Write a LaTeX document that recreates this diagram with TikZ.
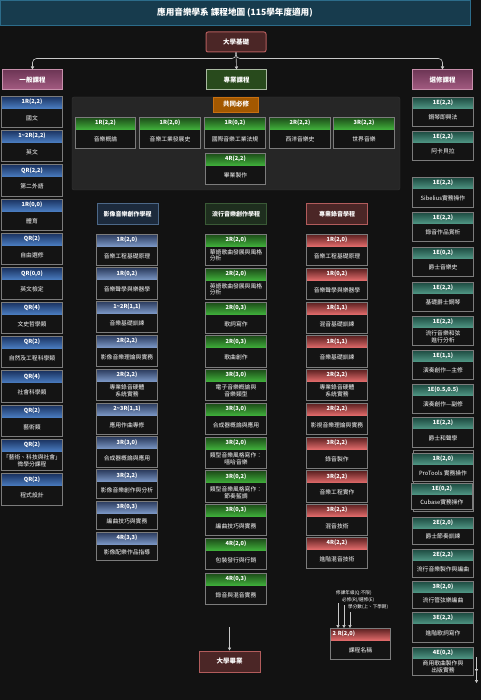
\documentclass[tikz,border=0pt]{standalone}
\usepackage{fontspec}
\setmainfont{Noto Sans CJK TC}
\usetikzlibrary{arrows.meta}
\definecolor{bgdark}{HTML}{121212}
\definecolor{boxblack}{HTML}{141414}
\definecolor{framegray}{HTML}{7C7C7C}
\definecolor{linegray}{HTML}{C8C8C8}
\definecolor{titlefill}{HTML}{173B4D}
\definecolor{titledraw}{HTML}{2C6C8A}
\definecolor{univfill}{HTML}{4B2626}
\definecolor{univdraw}{HTML}{B25C5C}
\definecolor{proffill}{HTML}{284A1C}
\definecolor{profdraw}{HTML}{A9B9A1}
\definecolor{pinktop}{HTML}{6E3656}
\definecolor{pinkbot}{HTML}{A45C82}
\definecolor{pinkdraw}{HTML}{C890AC}
\definecolor{corefill}{HTML}{A35800}
\definecolor{coredraw}{HTML}{C87010}
\definecolor{panelfill}{HTML}{262626}
\definecolor{paneldraw}{HTML}{363636}
\definecolor{filmfill}{HTML}{1C2A3C}
\definecolor{filmdraw}{HTML}{4C6888}
\definecolor{popfill}{HTML}{1E2E1E}
\definecolor{popdraw}{HTML}{3A5A36}
\definecolor{bluetop}{HTML}{1A3260}
\definecolor{bluebot}{HTML}{4A7CC0}
\definecolor{navytop}{HTML}{2A3A5C}
\definecolor{navybot}{HTML}{7A96C4}
\definecolor{greentop}{HTML}{1C4A18}
\definecolor{greenbot}{HTML}{3FAE3A}
\definecolor{redtop}{HTML}{5A2020}
\definecolor{redbot}{HTML}{E06A6A}
\definecolor{tealtop}{HTML}{1D4A40}
\definecolor{tealbot}{HTML}{4E9482}
\newcommand{\course}[6][]{%
  \node[#3,anchor=north] (#2) at #4 {#5};
  \node[cbody,#1,anchor=north] (#2-b) at (#2.south) {#6};
  \draw[cframe] (#2.north west) rectangle (#2-b.south east);
}
\tikzset{
  cframe/.style={draw=framegray,line width=0.9pt},
  cbody/.style={minimum width=60pt,minimum height=19pt,inner sep=0pt,fill=boxblack,text=white,
    font=\fontsize{5.8}{6.9}\selectfont,align=center},
  chead/.style={minimum width=60pt,minimum height=12pt,inner sep=0pt,text=white,
    font=\bfseries\fontsize{5.6}{6.8}\selectfont},
  hblue/.style={chead,top color=bluetop,bottom color=bluebot},
  hnavy/.style={chead,top color=navytop,bottom color=navybot},
  hgreen/.style={chead,top color=greentop,bottom color=greenbot},
  hred/.style={chead,top color=redtop,bottom color=redbot},
  hteal/.style={chead,minimum height=11pt,top color=tealtop,bottom color=tealbot},
  tag/.style={minimum width=60pt,minimum height=20pt,inner sep=0pt,text=white,line width=1pt,
    font=\bfseries\fontsize{6.5}{7.5}\selectfont},
  track/.style={minimum width=61pt,minimum height=21pt,inner sep=0pt,text=white,line width=1pt,
    font=\bfseries\fontsize{6}{7}\selectfont},
  legtxt/.style={inner sep=0pt,text=white,font=\fontsize{4.6}{5.5}\selectfont},
  conn/.style={draw=linegray,line width=0.6pt,-{Triangle[width=3.2pt,length=3pt]}},
}
\begin{document}
\begin{tikzpicture}[x=1pt,y=-1pt]
            \fill[bgdark] (0,0) rectangle (481,700);
            \useasboundingbox (0,0) rectangle (481,700);
            \node[fill=titlefill,draw=titledraw,line width=0.8pt,minimum width=470pt,minimum height=25pt,
              text=white,font=\bfseries\fontsize{8.6}{10}\selectfont] (title) at (235,12.5)
              {應用音樂學系 課程地圖 (115學年度適用)};
            \node[tag,fill=univfill,draw=univdraw,rounded corners=2pt] (univ) at (236,42) {大學基礎};
            \node[tag,fill=proffill,draw=profdraw] (prof) at (236.5,80) {專業課程};
            \node[tag,top color=pinktop,bottom color=pinkbot,draw=pinkdraw] (general) at (32.5,80) {一般課程};
            \node[tag,top color=pinktop,bottom color=pinkbot,draw=pinkdraw] (elective) at (442.5,80) {選修課程};
            \draw[conn,rounded corners=4pt] (univ.south) -- ++(0,6) -| (general.north);
            \draw[conn,rounded corners=4pt] (univ.south) -- ++(0,6) -| (elective.north);
            \draw[conn] (univ.south) -- (prof.north);

            \fill[panelfill,draw=paneldraw,rounded corners=2pt] (72,97) rectangle (400,190);
            \node[fill=corefill,draw=coredraw,line width=0.8pt,minimum width=45pt,minimum height=15pt,
              text=white,font=\bfseries\fontsize{6.5}{7.5}\selectfont] (core) at (236,104.5) {共同必修};
            \course{core1}{hgreen}{(105.5,117)}{1R(2,2)}{音樂概論}
            \course{core2}{hgreen}{(170,117)}{1R(2,0)}{音樂工業發展史}
            \course{core3}{hgreen}{(235,117)}{1R(0,2)}{國際音樂工業法規}
            \course{core4}{hgreen}{(300,117)}{2R(2,2)}{西洋音樂史}
            \course{core5}{hgreen}{(364,117)}{3R(2,2)}{世界音樂}
            \course{core6}{hgreen}{(235.5,153)}{4R(2,2)}{畢業製作}

            \course{gen1}{hblue}{(32,96)}{1R(2,2)}{國文}
            \course{gen2}{hblue}{(32,130)}{1\textasciitilde2R(2,2)}{英文}
            \course{gen3}{hblue}{(32,164.5)}{QR(2,2)}{第二外語}
            \course{gen4}{hblue}{(32,199)}{1R(0,0)}{體育}
            \course{gen5}{hblue}{(32,233)}{QR(2)}{自由選修}
            \course{gen6}{hblue}{(32,267.5)}{QR(0,0)}{英文檢定}
            \course{gen7}{hblue}{(32,302)}{QR(4)}{文史哲學類}
            \course{gen8}{hblue}{(32,336)}{QR(2)}{自然及工程科學類}
            \course{gen9}{hblue}{(32,370.5)}{QR(4)}{社會科學類}
            \course{gen10}{hblue}{(32,405)}{QR(2)}{藝術類}
            \course{gen11}{hblue}{(32,439)}{QR(2)}{「藝術、科技與社會」\\微學分課程}
            \course{gen12}{hblue}{(32,473.5)}{QR(2)}{程式設計}

            \node[track,fill=filmfill,draw=filmdraw] (trackfilm) at (127.5,214.5) {影像音樂創作學程};
            \course{film1}{hnavy}{(127,234)}{1R(2,0)}{音樂工程基礎原理}
            \course{film2}{hnavy}{(127,267.5)}{1R(0,2)}{音樂聲學與樂器學}
            \course{film3}{hnavy}{(127,301)}{1\textasciitilde2R(1,1)}{音樂基礎訓練}
            \course{film4}{hnavy}{(127,335)}{2R(2,2)}{影像音樂理論與實務}
            \course{film5}{hnavy}{(127,369)}{2R(2,2)}{專業錄音硬體\\系統實務}
            \course{film6}{hnavy}{(127,403)}{2\textasciitilde3R(1,1)}{應用作曲專修}
            \course[minimum height=18pt]{film7}{hnavy}{(127,436.5)}{3R(3,0)}{合成器概論與應用}
            \course[minimum height=16pt]{film8}{hnavy}{(127,469.5)}{3R(2,2)}{影像音樂創作與分析}
            \course[minimum height=16pt]{film9}{hnavy}{(127,501)}{3R(0,3)}{編曲技巧與實務}
            \course[minimum height=16pt]{film10}{hnavy}{(127,532)}{4R(3,3)}{影像配樂作品指導}

            \node[track,fill=popfill,draw=popdraw] (trackpop) at (236,214.5) {流行音樂創作學程};
            \course{pop1}{hgreen}{(236,234)}{2R(2,0)}{\begin{tabular}{@{}l@{}}華語歌曲發展與風格\\分析\end{tabular}}
            \course{pop2}{hgreen}{(236,268)}{2R(2,0)}{\begin{tabular}{@{}l@{}}英語歌曲發展與風格\\分析\end{tabular}}
            \course{pop3}{hgreen}{(236,302)}{2R(0,3)}{歌詞寫作}
            \course{pop4}{hgreen}{(236,335.5)}{2R(0,3)}{歌曲創作}
            \course{pop5}{hgreen}{(236,369)}{3R(3,0)}{電子音樂概論與\\音樂類型}
            \course{pop6}{hgreen}{(236,403)}{3R(3,0)}{合成器概論與應用}
            \course{pop7}{hgreen}{(236,437)}{3R(2,0)}{類型音樂風格寫作：\\嘻哈音樂}
            \course{pop8}{hgreen}{(236,470.5)}{3R(0,2)}{類型音樂風格寫作：\\節奏藍調}
            \course{pop9}{hgreen}{(236,504)}{3R(0,3)}{編曲技巧與實務}
            \course{pop10}{hgreen}{(236,538)}{4R(2,0)}{包裝發行與行銷}
            \course{pop11}{hgreen}{(236,573)}{4R(0,3)}{錄音與混音實務}

            \node[track,fill=univfill,draw=univdraw] (trackrec) at (337,214.5) {專業錄音學程};
            \course{rec1}{hred}{(337,234)}{1R(2,0)}{音樂工程基礎原理}
            \course{rec2}{hred}{(337,268)}{1R(0,2)}{音樂聲學與樂器學}
            \course{rec3}{hred}{(337,302)}{1R(1,1)}{混音基礎訓練}
            \course{rec4}{hred}{(337,335.5)}{1R(1,1)}{音樂基礎訓練}
            \course{rec5}{hred}{(337,369)}{2R(2,2)}{專業錄音硬體\\系統實務}
            \course{rec6}{hred}{(337,403)}{2R(2,2)}{影視音樂理論與實務}
            \course{rec7}{hred}{(337,437)}{3R(2,2)}{錄音製作}
            \course{rec8}{hred}{(337,470.5)}{3R(2,2)}{音樂工程實作}
            \course{rec9}{hred}{(337,504)}{3R(2,2)}{混音技術}
            \course{rec10}{hred}{(337,537)}{4R(2,2)}{進階混音技術}

            \course[minimum height=18pt]{ele1}{hteal}{(443,97)}{1E(2,2)}{鋼琴即興法}
            \course[minimum height=18pt]{ele2}{hteal}{(443,131)}{1E(2,2)}{阿卡貝拉}
            \course[minimum height=18pt]{ele3}{hteal}{(443,177.5)}{1E(2,2)}{Sibelius實務操作}
            \course[minimum height=18pt]{ele4}{hteal}{(443,212)}{1E(2,2)}{錄音作品賞析}
            \course[minimum height=18pt]{ele5}{hteal}{(443,247)}{1E(0,2)}{爵士音樂史}
            \course[minimum height=18pt]{ele6}{hteal}{(443,282)}{1E(2,2)}{基礎爵士鋼琴}
            \course[minimum height=18pt]{ele7}{hteal}{(443,316)}{1E(2,2)}{流行音樂和弦\\進行分析}
            \course[minimum height=18pt]{ele8}{hteal}{(443,350)}{1E(1,1)}{演奏創作—主修}
            \course[minimum height=18pt]{ele9}{hteal}{(443,384)}{1E(0.5,0.5)}{演奏創作—副修}
            \course[minimum height=18pt]{ele10}{hteal}{(443,417.5)}{1E(2,2)}{爵士和聲學}
            \draw[cframe,fill=boxblack] (413,450.5) rectangle (473,511);
            \course[minimum height=17pt]{ele11}{hteal}{(443,453)}{1R(2,0)}{ProTools 實務操作}
            \course[minimum height=15pt]{ele12}{hteal}{(442,483)}{1E(0,2)}{Cubase實務操作}
            \course[minimum height=16pt]{ele13}{hteal}{(443,517)}{2E(2,0)}{爵士節奏訓練}
            \course[minimum height=17pt]{ele14}{hteal}{(443,549)}{2E(2,2)}{流行音樂製作與編曲}
            \course[minimum height=16pt]{ele15}{hteal}{(443,581)}{3R(2,0)}{流行管弦樂編曲}
            \course[minimum height=18pt]{ele16}{hteal}{(443,612.5)}{3E(2,2)}{進階歌詞寫作}
            \course[minimum height=17pt]{ele17}{hteal}{(443,647)}{4E(0,2)}{商用歌曲製作與\\出版實務}
            \coordinate (moreA) at (476.5,657);
            \coordinate (moreM) at (476.5,672);
            \coordinate (moreB) at (476.5,683);
            \draw[conn] (moreA) -- (moreM);
            \draw[conn] (moreM) -- (moreB);

            \node[tag,minimum width=61pt,minimum height=21pt,fill=univfill,draw=univdraw] (grad) at (229.5,661.5) {大學畢業};
            \coordinate (gradin) at (229.5,627);
            \draw[conn] (gradin) -- (grad.north);

            \course{legend}{hred,text width=56pt,align=left,inner xsep=2pt}{(360.5,628)}{2 R(2,0)}{課程名稱}
            \node[legtxt,anchor=west] (leg1) at (336,593) {修課年級(Q:不限)};
            \node[legtxt,anchor=west] (leg2) at (342,600) {必修(R)/選修(E)};
            \node[legtxt,anchor=west] (leg3) at (348,607) {學分數(上、下學期)};
            \coordinate (legA) at (338,603);
            \coordinate (legB) at (344,605);
            \coordinate (legC) at (350,612);
            \draw[conn] (legA) -- (legA |- legend.north);
            \draw[conn] (legB) -- (legB |- legend.north);
            \draw[conn] (legC) -- (legC |- legend.north);
        \end{tikzpicture}
\end{document}
